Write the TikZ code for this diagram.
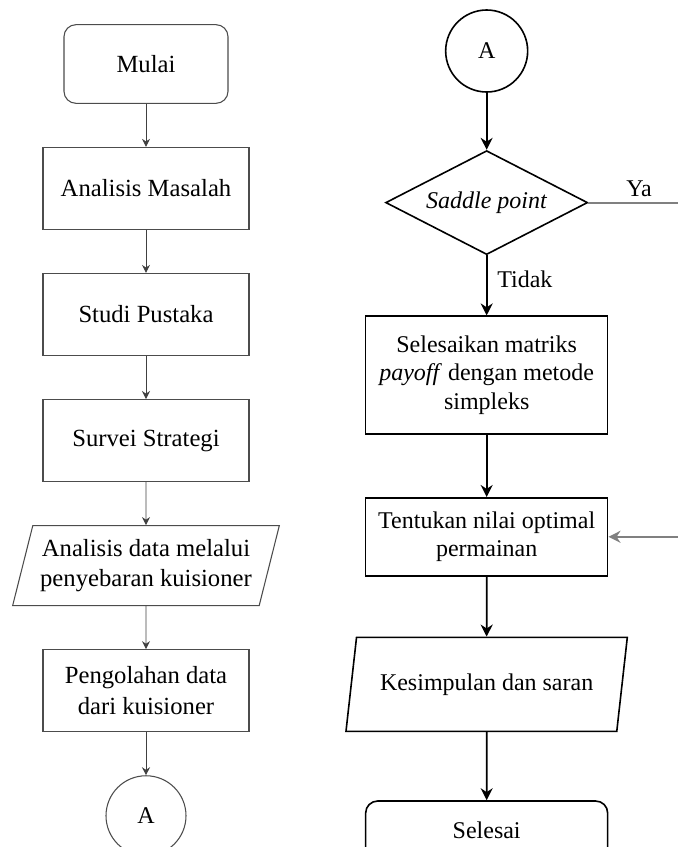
\documentclass[tikz,border=0pt]{standalone}
\usepackage{fontspec}
\setmainfont{Liberation Serif}
\usetikzlibrary{positioning, arrows.meta, shapes}

\begin{document}
\begin{tikzpicture}[
            font=\fontsize{18}{21.5}\selectfont,
            node distance=32.25pt,
            box/.style={rectangle, draw=black!70, line width=0.8pt, minimum width=154.5pt, minimum height=61.5pt, align=center, font=\fontsize{18.5}{23}\selectfont},
            startbox/.style={box, rounded corners=9pt, minimum width=123pt, minimum height=59pt},
            iobox/.style={trapezium, trapezium left angle=72, trapezium right angle=108, trapezium stretches body, draw=black!70, line width=0.8pt, minimum width=200pt, minimum height=60pt, align=center, inner xsep=0pt, font=\fontsize{18.5}{23}\selectfont},
            connector/.style={circle, draw=black!70, line width=0.8pt, minimum size=60pt, inner sep=0pt},
            rbox/.style={rectangle, draw, line width=1.2pt, minimum width=181.5pt, align=center},
            riobox/.style={trapezium, trapezium left angle=71, trapezium right angle=109, trapezium stretches body, draw, line width=1.2pt, minimum width=211pt, minimum height=70.5pt, align=center, inner xsep=0pt},
            rconnector/.style={circle, draw, line width=1.2pt, minimum size=61.5pt, inner sep=0pt},
            decision/.style={diamond, draw, line width=1.2pt, aspect=2, minimum width=151.5pt, minimum height=78pt, inner sep=0pt},
            arrow/.style={-{Stealth[length=6pt, width=6pt]}, draw=black!75, line width=0.7pt},
            rarrow/.style={-{Stealth[length=9pt, width=9pt]}, line width=1.3pt},
            yaline/.style={-{Stealth[length=9pt, width=9pt]}, draw=black!50, line width=1.5pt}
        ]
        \clip (0,0) rectangle (508.5pt,-635.25pt);
        \node[startbox] (mulai) at (109.5pt,-48pt) {Mulai};
        \node[box, below=of mulai] (masalah) {Analisis Masalah};
        \node[box, below=of masalah] (pustaka) {Studi Pustaka};
        \node[box, below=of pustaka] (survei) {Survei Strategi};
        \node[iobox, below=of survei] (kuisioner) {Analisis data melalui\\penyebaran kuisioner};
        \node[box, below=of kuisioner] (olah) {Pengolahan data\\dari kuisioner};
        \node[connector, below=of olah] (konA) {A};
        \draw[arrow] (mulai) -- (masalah);
        \draw[arrow] (masalah) -- (pustaka);
        \draw[arrow] (pustaka) -- (survei);
        \draw[arrow] (survei) -- (kuisioner);
        \draw[arrow] (kuisioner) -- (olah);
        \draw[arrow] (olah) -- (konA);

        \node[rconnector] (konB) at (365pt,-38.25pt) {A};
        \node[decision, below=42.75pt of konB] (saddle) {\textit{Saddle point}};
        \node[rbox, minimum height=88.5pt, below=45pt of saddle] (simpleks) {Selesaikan matriks\\\textit{payoff} dengan metode\\simpleks};
        \node[rbox, minimum height=58.5pt, below=46.5pt of simpleks] (optimal) {Tentukan nilai optimal\\permainan};
        \node[riobox, below=45pt of optimal] (simpulan) {Kesimpulan dan saran};
        \node[rbox, rounded corners=9pt, minimum height=43.5pt, below=51pt of simpulan] (selesai) {Selesai};
        \coordinate[right=77.5pt of saddle.east] (balik);
        \draw[rarrow] (konB) -- (saddle);
        \draw[rarrow] (saddle) -- node[right=4pt, pos=0.4] {Tidak} (simpleks);
        \draw[rarrow] (simpleks) -- (optimal);
        \draw[rarrow] (optimal) -- (simpulan);
        \draw[rarrow] (simpulan) -- (selesai);
        \draw[yaline] (saddle.east) -- node[above, pos=0.49] {Ya} (balik) |- (optimal.east);
\end{tikzpicture}
\end{document}
